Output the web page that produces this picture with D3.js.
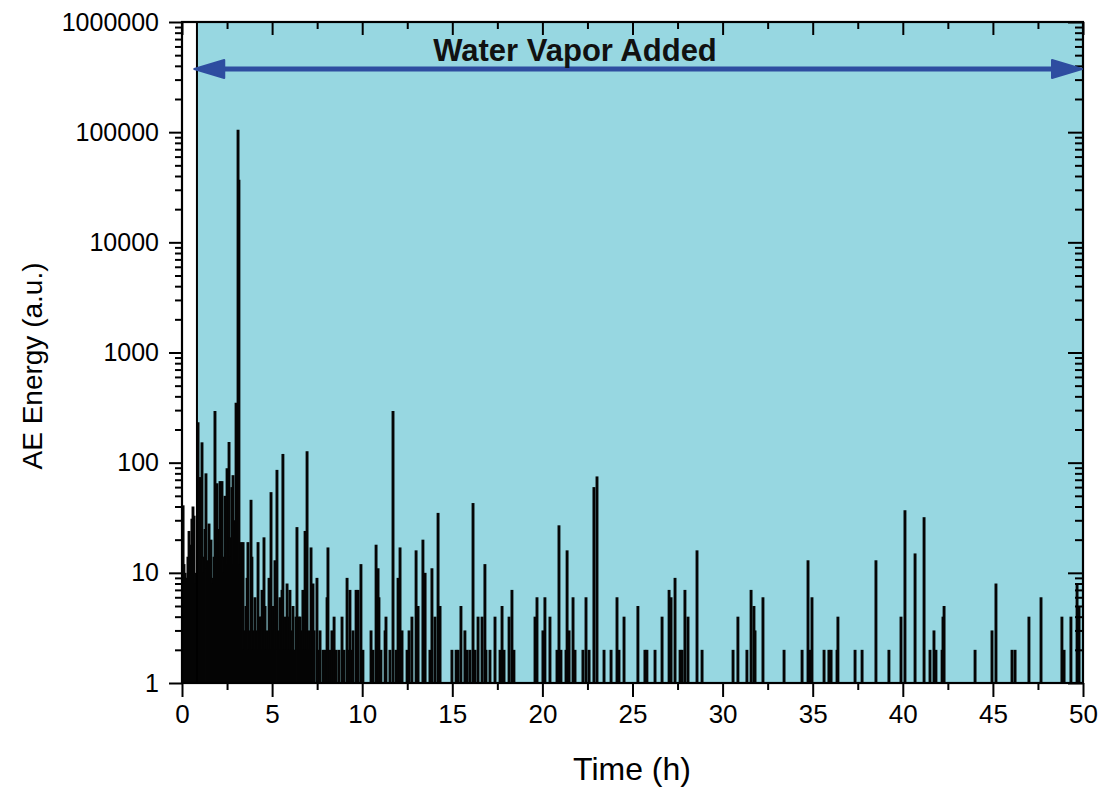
<!DOCTYPE html>
<html>
<head>
<meta charset="utf-8">
<script src="https://cdn.jsdelivr.net/npm/d3@7"></script>
<style>
  html, body { margin: 0; padding: 0; background: #ffffff; }
  svg { display: block; font-family: Arial, "Liberation Sans", sans-serif; }
</style>
</head>
<body>
<svg id="chart" width="1099" height="787"></svg>
<script>
// ---- data ----
const times = [
  0.02,0.06,0.11,0.17,0.22,0.28,0.33,0.39,0.44,0.50,0.55,0.61,0.67,0.72,0.78,
  0.89,0.94,1.00,1.05,1.11,1.16,1.22,1.28,1.33,1.39,1.44,1.50,1.55,1.61,1.67,1.72,1.78,1.83,1.89,1.94,
  2.00,2.05,2.11,2.16,2.22,2.28,2.33,2.39,2.45,2.50,2.55,2.61,2.66,2.72,2.77,2.83,2.89,2.94,
  3.00,3.06,3.11,3.16,3.22,3.27,3.33,3.39,3.44,3.50,3.55,3.61,3.66,3.72,3.77,3.83,3.88,3.94,
  4.00,4.05,4.11,4.16,4.22,4.27,4.33,4.38,4.44,4.50,4.55,4.61,4.66,4.72,4.77,4.83,4.89,4.94,
  5.00,5.05,5.10,5.16,5.22,5.27,5.33,5.38,5.44,5.49,5.55,5.60,5.66,5.72,5.77,5.83,5.88,5.94,5.99,
  6.05,6.10,6.16,6.22,6.27,6.33,6.38,6.44,6.49,6.55,6.60,6.66,6.71,6.77,6.83,6.88,6.94,
  7.00,7.05,7.10,7.16,7.22,7.27,7.33,7.49,7.55,7.66,7.83,7.94,
  8.05,8.10,8.21,8.32,8.44,8.55,8.71,8.88,8.99,
  9.16,9.21,9.32,9.38,9.49,9.66,9.77,9.93,
  10.04,10.49,10.60,10.77,10.88,10.93,
  11.04,11.27,11.32,11.54,11.71,11.88,11.99,
  12.10,12.21,12.49,12.60,12.76,12.99,
  13.10,13.37,13.49,13.76,13.87,
  14.04,14.21,14.32,14.98,
  15.21,15.32,15.48,15.70,15.82,15.98,
  16.15,16.26,16.43,16.65,16.81,16.87,
  17.09,17.37,17.65,17.76,17.87,
  18.15,18.31,18.42,
  19.59,19.70,20.03,20.14,20.42,20.81,20.92,
  21.03,21.31,21.37,21.48,21.70,21.81,
  22.25,22.42,22.59,22.86,23.03,23.42,23.81,
  24.14,24.25,24.53,25.30,25.69,25.80,
  26.25,26.64,27.03,27.14,27.36,27.64,27.75,27.91,
  28.08,28.58,28.86,30.58,30.85,
  31.35,31.58,31.74,31.80,32.24,33.41,
  34.41,34.74,34.85,34.96,35.63,35.90,
  36.02,36.35,36.40,37.35,37.74,38.51,39.23,39.90,
  40.12,40.68,41.18,41.51,41.73,41.84,
  42.18,42.23,42.29,44.01,44.95,
  45.17,46.06,46.23,47.00,47.67,48.83,48.95,49.33,49.67,49.78
];
const energies = [
  11,41,12,10,9,9,14,24,12,18,31,40,33,10,8,
  233,12,74,10,153,14,10,25,80,11,13,28,14,20,9,8,14,295,12,65,
  25,19,68,14,68,14,10,50,15,89,12,154,21,14,60,77,12,30,
  350,70,105000,37000,12,19,10,19,2,3,5,9,19,2,3,46,14,2,
  3,6,2,3,19,2,4,4,7,2,21,5,2,3,2,9,2,54,
  2,5,3,13,2,86,2,3,6,2,7,120,2,4,2,8,4,2,7,
  2,3,5,2,2,4,26,2,4,4,2,3,7,2,24,2,127,
  2,3,2,17,2,8,3,9,2,3,2,2,
  6,17,2,3,4,2,2,4,2,
  9,2,7,2,3,7,7,12,
  2,3,2,18,11,6,
  2,3,4,2,295,2,9,
  17,3,2,3,4,16,
  5,20,10,2,11,
  4,35,5,2,
  2,2,5,3,2,2,
  43,2,4,4,12,2,
  2,4,2,5,2,
  4,7,2,
  4,6,3,6,4,2,27,
  2,2,16,3,6,2,
  2,6,2,60,75,2,2,
  6,2,4,5,2,2,
  2,4,7,6,9,2,2,7,
  4,16,2,2,4,
  2,7,5,3,6,2,
  2,13,2,6,2,2,
  2,2,4,2,2,13,2,4,
  37,15,32,2,3,2,
  2,4,5,2,3,
  8,2,2,4,6,4,2,4,8,5
];
const yTickValues = [1, 10, 100, 1000, 10000, 100000, 1000000];
const xTickValues = [0, 5, 10, 15, 20, 25, 30, 35, 40, 45, 50];
const waterStart = 0.83;
const annotation = "Water Vapor Added";
const xTitle = "Time (h)";
const yTitle = "AE Energy (a.u.)";

// ---- layout ----
const L = 182, R = 1083, T = 22, B = 683;
const svg = d3.select("#chart");
const x = d3.scaleLinear().domain([0, 50]).range([L, R]);
const y = d3.scaleLog().domain([1, 1e6]).range([B, T]);

// background
svg.append("rect").attr("x", x(waterStart)).attr("y", T)
  .attr("width", R - x(waterStart)).attr("height", B - T).attr("fill", "#97d7e1");

// clip
svg.append("clipPath").attr("id", "clip").append("rect")
  .attr("x", L).attr("y", T).attr("width", R - L).attr("height", B - T);

// bars
svg.append("g").attr("clip-path", "url(#clip)")
  .selectAll("line").data(times.map((t, i) => [t, energies[i]])).join("line")
  .attr("x1", d => x(d[0])).attr("x2", d => x(d[0]))
  .attr("y1", y(1)).attr("y2", d => y(d[1]))
  .attr("stroke", "#050505").attr("stroke-width", 2.9);

// water vapor start line
svg.append("line").attr("x1", x(waterStart)).attr("x2", x(waterStart))
  .attr("y1", T).attr("y2", B).attr("stroke", "#000").attr("stroke-width", 2);

// minor tick values
const yMinor = [];
for (let d = 1; d < 1e6; d *= 10) for (let k = 2; k <= 9; k++) yMinor.push(d * k);
const xMinor = [];
for (let v = 2.5; v < 50; v += 5) xMinor.push(v);

function styleAxis(g) {
  g.select(".domain").remove();
  g.selectAll("line").attr("stroke", "#000").attr("stroke-width", 2);
}

// left axis
svg.append("g").attr("transform", `translate(${L},0)`)
  .call(d3.axisLeft(y).tickValues(yMinor).tickSize(7).tickFormat(""))
  .call(styleAxis);
svg.append("g").attr("transform", `translate(${L},0)`)
  .call(d3.axisLeft(y).tickValues(yTickValues).tickSize(13).tickPadding(10).tickFormat(d3.format("d")))
  .call(styleAxis)
  .call(g => g.selectAll("text").attr("font-size", 25).attr("fill", "#000")
    .attr("font-family", "Arial, 'Liberation Sans', sans-serif"));
// right axis (inward)
svg.append("g").attr("class", "rightaxis").attr("transform", `translate(${R},0)`)
  .call(d3.axisRight(y).tickValues(yMinor).tickSize(-8).tickFormat(""))
  .call(styleAxis);
svg.append("g").attr("class", "rightaxis").attr("transform", `translate(${R},0)`)
  .call(d3.axisRight(y).tickValues(yTickValues).tickSize(-15).tickFormat(""))
  .call(styleAxis);

// bottom axis
svg.append("g").attr("transform", `translate(0,${B})`)
  .call(d3.axisBottom(x).tickValues(xMinor).tickSize(7).tickFormat(""))
  .call(styleAxis);
svg.append("g").attr("transform", `translate(0,${B})`)
  .call(d3.axisBottom(x).tickValues(xTickValues).tickSize(14).tickPadding(8).tickFormat(d3.format("d")))
  .call(styleAxis)
  .call(g => g.selectAll("text").attr("font-size", 26).attr("fill", "#000")
    .attr("font-family", "Arial, 'Liberation Sans', sans-serif"));
// top axis (inward)
svg.append("g").attr("transform", `translate(0,${T})`)
  .call(d3.axisBottom(x).tickValues(xMinor).tickSize(7).tickFormat(""))
  .call(styleAxis);
svg.append("g").attr("transform", `translate(0,${T})`)
  .call(d3.axisBottom(x).tickValues(xTickValues).tickSize(13).tickFormat(""))
  .call(styleAxis);

// frame
svg.append("rect").attr("x", L).attr("y", T).attr("width", R - L).attr("height", B - T)
  .attr("fill", "none").attr("stroke", "#000").attr("stroke-width", 2.2);

// arrow
const ay = 69, ax1 = x(0.68), ax2 = R - 1;
const arrowColor = "#2e4da0";
svg.append("line").attr("x1", ax1 + 20).attr("x2", ax2 - 20).attr("y1", ay).attr("y2", ay)
  .attr("stroke", arrowColor).attr("stroke-width", 5);
svg.append("path")
  .attr("d", `M${ax1},${ay} L${ax1 + 30},${ay - 9} L${ax1 + 30},${ay + 9} Z`)
  .attr("fill", arrowColor).attr("stroke", arrowColor).attr("stroke-width", 2).attr("stroke-linejoin", "round");
svg.append("path")
  .attr("d", `M${ax2},${ay} L${ax2 - 30},${ay - 9} L${ax2 - 30},${ay + 9} Z`)
  .attr("fill", arrowColor).attr("stroke", arrowColor).attr("stroke-width", 2).attr("stroke-linejoin", "round");

svg.append("text").attr("x", 575).attr("y", 61).attr("text-anchor", "middle")
  .attr("font-size", 31).attr("font-weight", "bold").attr("fill", "#111").text(annotation);

// axis titles
svg.append("text").attr("x", 632).attr("y", 780).attr("text-anchor", "middle")
  .attr("font-size", 32).attr("fill", "#000").text(xTitle);
svg.append("text").attr("transform", "translate(42,366) rotate(-90)").attr("text-anchor", "middle")
  .attr("font-size", 28).attr("fill", "#000").text(yTitle);
</script>
</body>
</html>
